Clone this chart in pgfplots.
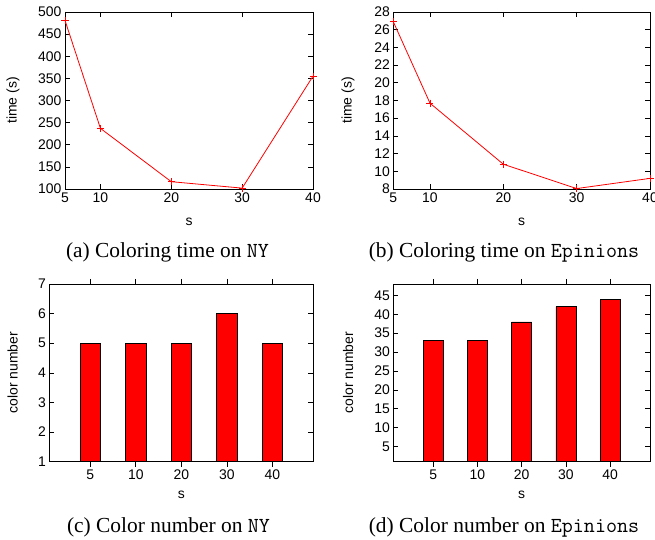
\documentclass[border=0pt]{standalone}
\usepackage{fontspec}
\setmainfont{Liberation Sans}
\newfontfamily\capfont{Liberation Serif}
\usepackage{pgfplots}
\pgfplotsset{compat=1.18}
\pgfplotsset{
  myax/.style={
    scale only axis, anchor=south west,
    axis line style={line width=0.8bp},
    every tick/.style={black, line width=0.6bp},
    major tick length=5bp,
    tick label style={font=\fontsize{14}{16}\selectfont},
    label style={font=\fontsize{14}{16}\selectfont},
    /pgf/number format/assume math mode=true,
    /pgf/number format/1000 sep={},
  },
  lineplot/.style={red, line width=0.8bp, mark=+, mark size=3.5bp, mark options={solid, line width=0.8bp}},
  barplot/.style={fill=red, draw=black, line width=0.6bp},
}
\begin{document}
\begin{tikzpicture}
\useasboundingbox (0,0) rectangle (655bp,540bp);

% (a)
\begin{axis}[myax, at={(65bp,351bp)}, width=248bp, height=177bp,
  xmin=5, xmax=40, ymin=100, ymax=500, clip=false,
  xtick={5,10,20,30,40}, ytick={100,150,...,500},
  xlabel={s}, ylabel={time (s)},
  xlabel style={at={(axis description cs:0.5,-0.186)}, anchor=center},
  ylabel style={at={(axis description cs:-0.21,0.5)}, anchor=center}]
\addplot[lineplot] coordinates {(5,481) (10,237) (20,116.5) (30,102) (40,355)};
\end{axis}

% (b)
\begin{axis}[myax, at={(393.3bp,351bp)}, width=256.7bp, height=177bp,
  xmin=5, xmax=40, ymin=8, ymax=28, clip=false,
  xtick={5,10,20,30,40}, ytick={8,10,...,28},
  xlabel={s}, ylabel={time (s)},
  xlabel style={at={(axis description cs:0.5,-0.186)}, anchor=center},
  ylabel style={at={(axis description cs:-0.176,0.5)}, anchor=center}]
\addplot[lineplot] coordinates {(5,26.9) (10,17.7) (20,10.8) (30,8.05) (40,9.2)};
\end{axis}

% (c)
\begin{axis}[myax, at={(49.3bp,78.3bp)}, width=264bp, height=177.7bp,
  ybar, bar width=0.45,
  xmin=-0.9, xmax=4.9, ymin=1, ymax=7,
  xtick={0,1,2,3,4}, xticklabels={5,10,20,30,40}, ytick={1,2,...,7},
  xlabel={s}, ylabel={color number},
  xlabel style={at={(axis description cs:0.5,-0.187)}, anchor=center},
  ylabel style={at={(axis description cs:-0.139,0.5)}, anchor=center}]
\addplot[barplot] coordinates {(0,5) (1,5) (2,5) (3,6) (4,5)};
\end{axis}

% (d)
\begin{axis}[myax, at={(393.3bp,78.3bp)}, width=256.7bp, height=177.7bp,
  ybar, bar width=0.45,
  xmin=-0.9, xmax=4.9, ymin=1, ymax=48,
  xtick={0,1,2,3,4}, xticklabels={5,10,20,30,40}, ytick={5,10,...,45},
  xlabel={s}, ylabel={color number},
  xlabel style={at={(axis description cs:0.5,-0.187)}, anchor=center},
  ylabel style={at={(axis description cs:-0.176,0.5)}, anchor=center}]
\addplot[barplot] coordinates {(0,33) (1,33) (2,38) (3,42) (4,44)};
\end{axis}

\node[anchor=base, font=\capfont\fontsize{21.5}{24}\selectfont] at (167.5bp,282bp) {(a) Coloring time on \texttt{NY}};
\node[anchor=base, font=\capfont\fontsize{21.5}{24}\selectfont] at (504bp,282bp) {(b) Coloring time on \texttt{Epinions}};
\node[anchor=base, font=\capfont\fontsize{21.5}{24}\selectfont] at (168.5bp,8bp) {(c) Color number on \texttt{NY}};
\node[anchor=base, font=\capfont\fontsize{21.5}{24}\selectfont] at (504bp,8bp) {(d) Color number on \texttt{Epinions}};
\end{tikzpicture}
\end{document}
